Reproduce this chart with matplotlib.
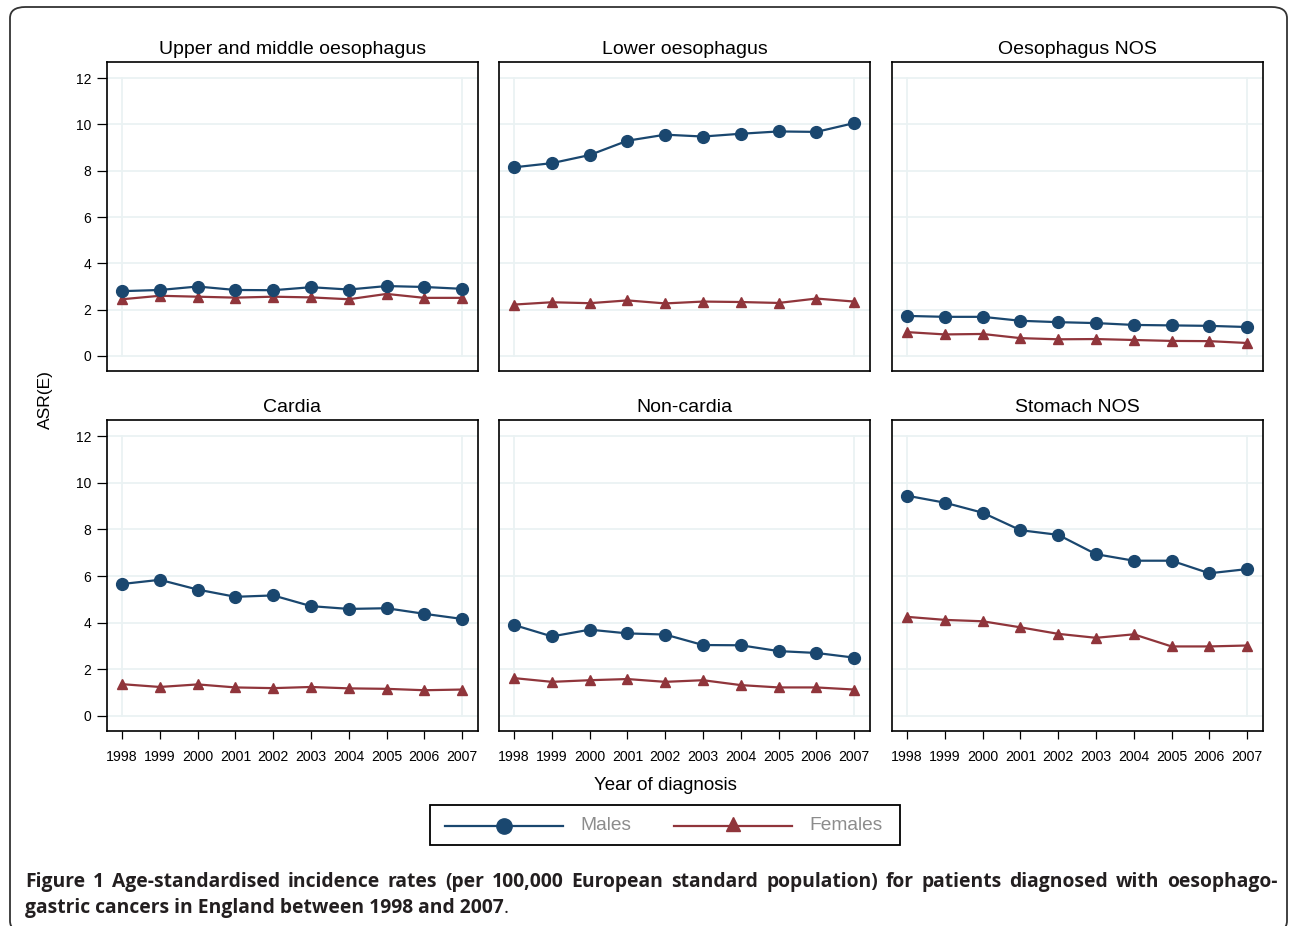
import matplotlib
matplotlib.use('Agg')
import matplotlib.pyplot as plt
from matplotlib.patches import FancyBboxPatch, Rectangle
from matplotlib.lines import Line2D

plt.rcParams['font.family'] = ['Liberation Sans', 'DejaVu Sans']

years = list(range(1998, 2008))

titles = ['Upper and middle oesophagus', 'Lower oesophagus', 'Oesophagus NOS',
          'Cardia', 'Non-cardia', 'Stomach NOS']

males = [
    [2.80, 2.85, 3.00, 2.85, 2.84, 2.97, 2.87, 3.02, 2.98, 2.90],
    [8.15, 8.33, 8.68, 9.30, 9.56, 9.48, 9.60, 9.70, 9.68, 10.06],
    [1.73, 1.69, 1.69, 1.52, 1.46, 1.42, 1.34, 1.32, 1.30, 1.25],
    [5.66, 5.84, 5.42, 5.11, 5.17, 4.71, 4.59, 4.62, 4.38, 4.16],
    [3.90, 3.41, 3.70, 3.54, 3.49, 3.04, 3.03, 2.78, 2.70, 2.50],
    [9.45, 9.15, 8.72, 7.97, 7.77, 6.94, 6.66, 6.66, 6.12, 6.30],
]
females = [
    [2.45, 2.60, 2.56, 2.52, 2.56, 2.53, 2.45, 2.68, 2.51, 2.51],
    [2.22, 2.32, 2.28, 2.40, 2.27, 2.35, 2.33, 2.29, 2.48, 2.35],
    [1.03, 0.93, 0.95, 0.77, 0.72, 0.73, 0.69, 0.65, 0.64, 0.56],
    [1.36, 1.24, 1.35, 1.22, 1.19, 1.24, 1.18, 1.16, 1.10, 1.13],
    [1.62, 1.46, 1.53, 1.58, 1.46, 1.53, 1.32, 1.22, 1.22, 1.13],
    [4.25, 4.12, 4.06, 3.80, 3.52, 3.35, 3.50, 2.98, 2.98, 3.02],
]

caption_1 = ('Figure 1 Age-standardised incidence rates (per 100,000 European '
             'standard population) for patients diagnosed with oesophago-')
caption_2 = 'gastric cancers in England between 1998 and 2007'

navy = '#1a476f'
maroon = '#90353b'
grid_col = '#eaf2f3'

W, H = 1290, 926
fig = plt.figure(figsize=(W / 100, H / 100), dpi=100)

# rounded outer frame (bottom edge runs off the page)
frame = FancyBboxPatch((10 / W, -6 / H), 1277 / W, 925 / H,
                       boxstyle='round,pad=0,rounding_size=0.012',
                       transform=fig.transFigure, fill=False,
                       edgecolor='#333333', linewidth=1.3)
fig.patches.append(frame)

lefts = [107, 499, 892]
tops = [62, 420]
bottoms = [371, 731]
pw = 371

for k in range(6):
    r, c = divmod(k, 3)
    x0 = lefts[c] / W
    y0 = 1 - bottoms[r] / H
    h = (bottoms[r] - tops[r]) / H
    ax = fig.add_axes([x0, y0, pw / W, h])
    ax.set_xlim(1997.6, 2007.42)
    ax.set_ylim(-0.65, 12.7)
    for yv in range(0, 13, 2):
        ax.axhline(yv, color=grid_col, linewidth=1.3, zorder=0)
    ax.plot([1998, 1998], [0, 12], color=grid_col, linewidth=1.3, zorder=0)
    ax.plot([2007, 2007], [0, 12], color=grid_col, linewidth=1.3, zorder=0)
    ax.plot(years, males[k], color=navy, linewidth=1.6, marker='o',
            markersize=8.5, zorder=3)
    ax.plot(years, females[k], color=maroon, linewidth=1.6, marker='^',
            markersize=7.5, zorder=2)
    ax.set_title(titles[k], fontsize=14, pad=6)
    ax.set_xticks(years)
    ax.set_xticklabels([str(y) for y in years], fontsize=10.2)
    ax.set_yticks(range(0, 13, 2))
    if c == 0:
        ax.set_yticklabels([str(v) for v in range(0, 13, 2)], fontsize=10)
        ax.tick_params(axis='y', length=7.5, width=0.9, pad=4)
    else:
        ax.tick_params(axis='y', length=0, labelleft=False)
    if r == 0:
        ax.tick_params(axis='x', length=0, labelbottom=False)
    else:
        ax.tick_params(axis='x', length=6, width=0.9, pad=8)
    for s in ax.spines.values():
        s.set_linewidth(1.2)

fig.text(45 / W, 1 - 400 / H, 'ASR(E)', rotation=90, fontsize=12.5,
         ha='center', va='center')
fig.text(665 / W, 1 - 785 / H, 'Year of diagnosis', fontsize=13.5,
         ha='center', va='center')

# legend box
fig.patches.append(Rectangle((430 / W, 1 - 845 / H), 470 / W, 40 / H,
                             transform=fig.transFigure, fill=False,
                             edgecolor='black', linewidth=1.3))
ly = 1 - 826 / H
fig.lines.append(Line2D([445 / W, 563 / W], [ly, ly], transform=fig.transFigure,
                        color=navy, linewidth=1.6))
fig.lines.append(Line2D([504 / W], [ly], transform=fig.transFigure, color=navy,
                        marker='o', markersize=11))
fig.text(580 / W, ly, 'Males', fontsize=13.8, color='#8c8c8c', va='center')
fig.lines.append(Line2D([674 / W, 792 / W], [ly, ly], transform=fig.transFigure,
                        color=maroon, linewidth=1.6))
fig.lines.append(Line2D([733 / W], [ly + 0.002], transform=fig.transFigure,
                        color=maroon, marker='^', markersize=9.5))
fig.text(809 / W, ly, 'Females', fontsize=13.8, color='#8c8c8c', va='center')

# caption, first line justified between x=25 and x=1278
cap_font = ['Open Sans', 'DejaVu Sans']
cap_size = 13.9
cap_kw = dict(fontsize=cap_size, fontweight='bold', family=cap_font,
              color='#231f20', va='center')
renderer = fig.canvas.get_renderer()
words = caption_1.split(' ')
txts = [fig.text(0, 1 - 882 / H, w, **cap_kw) for w in words]
widths = [t.get_window_extent(renderer).width for t in txts]
gap = (1278 - 25 - sum(widths)) / (len(words) - 1)
x = 25.0
for t, wd in zip(txts, widths):
    t.set_x(x / W)
    x += wd + gap
t2 = fig.text(25 / W, 1 - 908 / H, caption_2, **cap_kw)
bb = t2.get_window_extent(renderer)
fig.text(bb.x1 / W, 1 - 908 / H, '.', fontsize=cap_size, family=cap_font,
         color='#231f20', va='center')

fig.savefig('out.png', dpi=100)
